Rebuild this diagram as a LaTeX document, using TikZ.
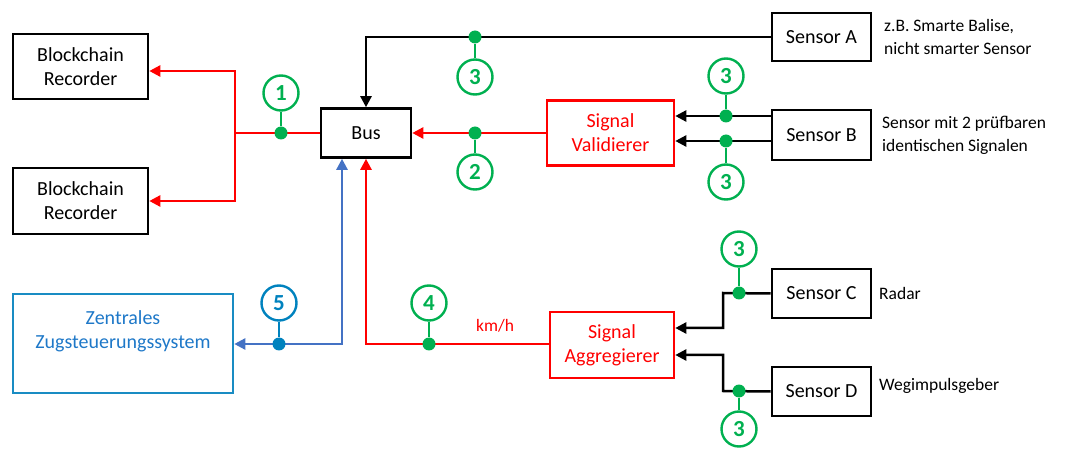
\documentclass[tikz,border=0pt]{standalone}
\usepackage{fontspec}
\setmainfont{Carlito}
\usetikzlibrary{arrows.meta,calc}
\definecolor{cred}{RGB}{255,0,0}
\definecolor{cgreen}{RGB}{0,176,80}
\definecolor{cblue}{RGB}{68,114,196}
\definecolor{cteal}{RGB}{0,130,190}
\definecolor{cbox}{RGB}{25,140,195}
\definecolor{ctext}{RGB}{30,120,200}
\begin{document}
\begin{tikzpicture}[x=1pt,y=-1pt,
  box/.style={draw=black,line width=2.6pt,inner sep=0pt,align=center,font=\fontsize{20}{24}\selectfont},
  ann/.style={anchor=west,align=left,inner sep=0pt,font=\fontsize{17.5}{23}\selectfont},
  ln/.style={line width=2.5pt},
  arr/.style={-{Triangle[length=11pt,width=11pt]}},
  num/.style={circle,draw=#1,line width=2.4pt,minimum size=35pt,inner sep=0pt,text=#1,font=\fontsize{23}{23}\selectfont\bfseries},
  num/.default=cgreen,
  dot/.style={circle,fill=#1,minimum size=13pt,inner sep=0pt},
  dot/.default=cgreen,
  stem/.style={draw=#1,line width=2.4pt},
  stem/.default=cgreen]
\useasboundingbox (0,0) rectangle (1072,449);

% boxes
\node[box,minimum width=135pt,minimum height=65pt] (B1) at (80.5,66.5) {Blockchain\\Recorder};
\node[box,minimum width=135pt,minimum height=66pt] (B2) at (80.5,201) {Blockchain\\Recorder};
\node[box,minimum width=90pt,minimum height=49pt] (Bus) at (366,133) {Bus};
\node[box,minimum width=99pt,minimum height=48pt] (SA) at (821.5,37) {Sensor A};
\node[box,draw=cred,text=cred,minimum width=127pt,minimum height=65pt] (Val) at (610.5,133) {Signal\\Validierer};
\node[box,minimum width=99pt,minimum height=50pt] (SB) at (821.5,135) {Sensor B};
\node[box,draw=cbox,text=ctext,minimum width=220pt,minimum height=99pt] (ZS) at (123,343.5) {Zentrales\\Zugsteuerungssystem\\[4pt]};
\node[box,draw=cred,text=cred,minimum width=124pt,minimum height=66pt] (Agg) at (612,345) {Signal\\Aggregierer};
\node[box,minimum width=99pt,minimum height=49pt] (SC) at (821.5,293.5) {Sensor C};
\node[box,minimum width=99pt,minimum height=49pt] (SD) at (821.5,391.5) {Sensor D};

% annotations
\node[ann] (tA) at (884,36.5) {z.B. Smarte Balise,\\nicht smarter Sensor};
\node[ann] (tB) at (882,135) {Sensor mit 2 prüfbaren\\identischen Signalen};
\node[ann] (tC) at (879,293) {Radar};
\node[ann] (tD) at (879,386) {Wegimpulsgeber};
\node[inner sep=0pt,text=cred,font=\fontsize{17.5}{20}\selectfont] (kmh) at (495,326) {km/h};

% junction coordinates
\coordinate (J1) at (235,133);
\coordinate (JA) at (366,37);
\coordinate (JB) at (342,344);
\coordinate (JR) at (366,344);
\coordinate (JC1) at (723,293);
\coordinate (JC2) at (723,328);
\coordinate (JD1) at (723,391);
\coordinate (JD2) at (723,355);

% connectors
\draw[ln,cred] (Bus.west) -- (J1);
\draw[ln,cred,arr] (J1) |- (B1.east |- 0,71);
\draw[ln,cred,arr] (J1) |- (B2.east |- 0,201);
\draw[ln,arr] (SA.west) -- (JA) -- (Bus.north);
\draw[ln,cred,arr] (Val.west) -- (Bus.east);
\draw[ln,arr] (SB.west |- 0,116) -- (Val.east |- 0,116);
\draw[ln,arr] (SB.west |- 0,141) -- (Val.east |- 0,141);
\draw[ln,cred,arr] (Agg.west |- 0,344) -- (JR) -- (Bus.south);
\draw[ln,cblue,{Triangle[length=11pt,width=11pt]}-{Triangle[length=11pt,width=11pt]}] (ZS.east |- 0,344) -- (JB) -- (Bus.south -| JB);
\draw[ln,arr] (SC.west) -- (JC1) -- (JC2) -- (Agg.east |- JC2);
\draw[ln,arr] (SD.west) -- (JD1) -- (JD2) -- (Agg.east |- JD2);

% markers
\node[num] (n1) at (281,93) {1};
\node[dot] (d1) at (281,133) {};
\draw[stem] (n1) -- (d1);
\node[num] (n3a) at (475,77) {3};
\node[dot] (d3a) at (475,37) {};
\draw[stem] (n3a) -- (d3a);
\node[num] (n2) at (475,172) {2};
\node[dot] (d2) at (475,133) {};
\draw[stem] (n2) -- (d2);
\node[num] (n3b) at (726,76) {3};
\node[dot] (d3b) at (726,116) {};
\draw[stem] (n3b) -- (d3b);
\node[num] (n3c) at (726,182) {3};
\node[dot] (d3c) at (726,141) {};
\draw[stem] (n3c) -- (d3c);
\node[num] (n4) at (429,303) {4};
\node[dot] (d4) at (429,344) {};
\draw[stem] (n4) -- (d4);
\node[num=cteal] (n5) at (279,303) {5};
\node[dot=cteal] (d5) at (279,344) {};
\draw[stem=cteal] (n5) -- (d5);
\node[num] (n3d) at (739,249) {3};
\node[dot] (d3d) at (739,293) {};
\draw[stem] (n3d) -- (d3d);
\node[num] (n3e) at (739,429) {3};
\node[dot] (d3e) at (739,391) {};
\draw[stem] (n3e) -- (d3e);
\end{tikzpicture}
\end{document}
